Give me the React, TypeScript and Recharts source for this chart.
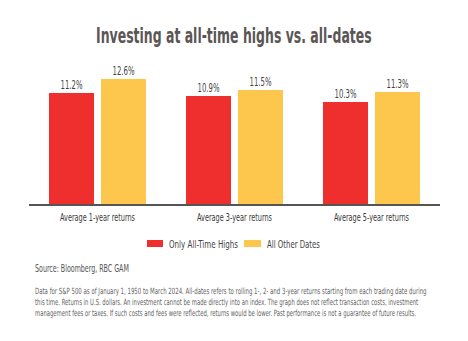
import React, { useLayoutEffect, useRef, useState } from "react";
import { BarChart, Bar, XAxis, YAxis, LabelList, Legend } from "recharts";

const categories = ["Average 1-year returns", "Average 3-year returns", "Average 5-year returns"];
const allTimeHighs = [11.2, 10.9, 10.3];
const otherDates = [12.6, 11.5, 11.3];
const seriesNames = ["Only All-Time Highs", "All Other Dates"];

const RED = "#EE2F2E";
const YELLOW = "#FDC74D";
const NARROW = "'Liberation Sans Narrow', 'DejaVu Sans Condensed', 'Roboto', sans-serif";

const data = categories.map((name, i) => ({
  name,
  ath: allTimeHighs[i],
  other: otherDates[i],
}));

const footnote = [
  "Data for S&P 500 as of January 1, 1950 to March 2024. All-dates refers to rolling 1-, 2- and 3-year returns starting from each trading date during",
  "this time. Returns in U.S. dollars. An investment cannot be made directly into an index. The graph does not reflect transaction costs, investment",
  "management fees or taxes. If such costs and fees were reflected, returns would be lower. Past performance is not a guarantee of future results.",
];
const footWidths = [392, 384, 382];

// squeeze text horizontally to a given width (the original uses a condensed face)
const FitText = ({ x, y, width, anchor = "start", children, ...rest }: any) => {
  const ref = useRef<SVGTextElement>(null);
  const [s, setS] = useState(1);
  useLayoutEffect(() => {
    if (ref.current) {
      const w = ref.current.getComputedTextLength();
      if (w > 0) setS(width / w);
    }
  }, [width, children]);
  return (
    <text ref={ref} transform={`translate(${x},${y}) scale(${s},1)`} textAnchor={anchor} fontFamily={NARROW} {...rest}>
      {children}
    </text>
  );
};

const CategoryTick = (props: any) => {
  const { x, y, payload } = props;
  return (
    <FitText x={x} y={y + 8} width={75} anchor="middle" fontSize={11} fill="#3a3a3a">
      {payload.value}
    </FitText>
  );
};

const ValueLabel = (props: any) => {
  const { x, y, width, value } = props;
  return (
    <FitText x={x + width / 2} y={y - 4} width={22} anchor="middle" fontSize={11.5} fill="#444">
      {`${value}%`}
    </FitText>
  );
};

const LegendContent = () => (
  <svg width={468} height={20} style={{ display: "block" }}>
    <rect x={147} y={4} width={16} height={7} fill={RED} />
    <FitText x={169} y={12} width={69} fontSize={11} fill="#444">
      {seriesNames[0]}
    </FitText>
    <rect x={244} y={4} width={17} height={7} fill={YELLOW} />
    <FitText x={267} y={12} width={53} fontSize={11} fill="#444">
      {seriesNames[1]}
    </FitText>
  </svg>
);

export default function App() {
  return (
    <div style={{ position: "absolute", left: 0, top: 0, width: 468, height: 341, background: "#fff" }}>
      <svg width={468} height={341} style={{ position: "absolute", left: 0, top: 0 }}>
        <FitText x={96} y={43} width={276} fontSize={22} fontWeight="bold" fill="#5b5656">
          Investing at all-time highs vs. all-dates
        </FitText>
        <FitText x={35} y={272} width={94} fontSize={11} fill="#555">
          Source: Bloomberg, RBC GAM
        </FitText>
        {footnote.map((line, i) => (
          <FitText key={i} x={35} y={294 + i * 11} width={footWidths[i]} fontSize={8.5} fill="#666">
            {line}
          </FitText>
        ))}
      </svg>
      <div style={{ position: "absolute", left: 0, top: 0 }}>
        <BarChart width={468} height={260} data={data} margin={{ top: 65, right: 28, left: 29, bottom: 10 }}
          barGap={7} barSize={45}>
          <XAxis dataKey="name" axisLine={{ stroke: "#555", strokeWidth: 2 }} tickLine={false} tick={<CategoryTick />}
            interval={0} height={25} />
          <YAxis hide domain={[0, 14]} width={0} />
          <Legend content={<LegendContent />} height={20}
            wrapperStyle={{ position: "absolute", top: 236, left: 0, width: 468, height: 20 }} />
          <Bar dataKey="ath" name={seriesNames[0]} fill={RED} isAnimationActive={false}>
            <LabelList dataKey="ath" content={<ValueLabel />} />
          </Bar>
          <Bar dataKey="other" name={seriesNames[1]} fill={YELLOW} isAnimationActive={false}>
            <LabelList dataKey="other" content={<ValueLabel />} />
          </Bar>
        </BarChart>
      </div>
    </div>
  );
}
